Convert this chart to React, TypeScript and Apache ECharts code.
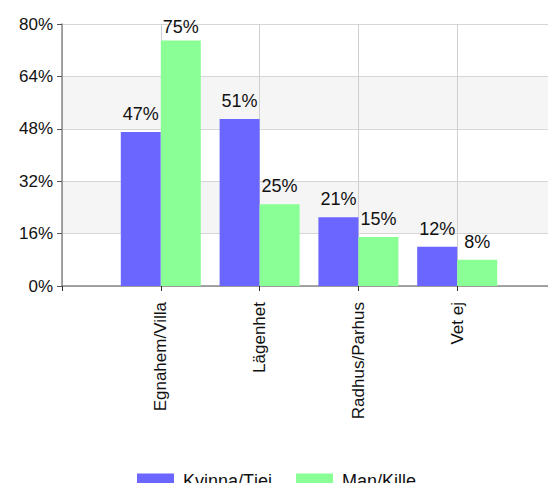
import React, { useEffect, useRef } from "react";
import * as echarts from "echarts";

const categories = ["", "Egnahem/Villa", "Lägenhet", "Radhus/Parhus", "Vet ej", ""];
const kvinna = ["-", 47, 51, 21, 12, "-"];
const man = ["-", 75, 25, 15, 8, "-"];
const seriesNames = ["Kvinna/Tjei", "Man/Kille"];

const FONT = "Liberation Sans, Arial, sans-serif";

export default function App() {
  const ref = useRef<HTMLDivElement>(null);
  useEffect(() => {
    if (!ref.current) return;
    const chart = echarts.init(ref.current, undefined, { renderer: "svg" });
    const label = {
      show: true,
      position: "top",
      distance: 9,
      formatter: "{c}%",
      color: "#111",
      fontSize: 18,
      fontFamily: FONT,
    };
    // the tallest bar's label sits closer to its bar so it stays inside the plot
    const maxVal = Math.max(...man.filter((v) => v !== "-").map(Number));
    const manData = man.map((v) =>
      v === maxVal ? { value: v, label: { distance: 4 } } : v
    );
    chart.setOption({
      animation: false,
      backgroundColor: "#fff",
      textStyle: { fontFamily: FONT },
      grid: { left: 62, top: 24, width: 500, height: 262, containLabel: false },
      legend: {
        top: 472,
        left: 137,
        padding: 0,
        itemWidth: 37,
        itemHeight: 15,
        itemGap: 24,
        icon: "rect",
        textStyle: { fontSize: 18, color: "#111", fontFamily: FONT, padding: [0, 0, 0, 4] },
        data: seriesNames,
      },
      xAxis: {
        type: "category",
        data: categories,
        boundaryGap: false,
        axisLine: { lineStyle: { color: "#888", width: 1.5 } },
        axisTick: { show: true, length: 5, lineStyle: { color: "#333" } },
        axisLabel: {
          rotate: 90,
          fontSize: 17,
          color: "#111",
          margin: 16,
          fontFamily: FONT,
          interval: 0,
        },
        splitLine: { show: true, lineStyle: { color: "#cfcfcf" } },
      },
      yAxis: {
        type: "value",
        min: 0,
        max: 80,
        interval: 16,
        axisLine: { show: true, lineStyle: { color: "#888", width: 1.5 } },
        axisTick: { show: true, length: 5, lineStyle: { color: "#555" } },
        axisLabel: { formatter: "{value}%", fontSize: 17, color: "#111", margin: 9, fontFamily: FONT },
        splitLine: { show: true, lineStyle: { color: "#d6d6d6" } },
        splitArea: { show: true, areaStyle: { color: ["#ffffff", "#f5f5f5"] } },
      },
      series: [
        {
          name: seriesNames[0],
          type: "bar",
          data: kvinna,
          barWidth: 40,
          barGap: "0%",
          itemStyle: { color: "#6b66ff" },
          label,
        },
        {
          name: seriesNames[1],
          type: "bar",
          data: manData,
          barWidth: 40,
          barGap: "0%",
          itemStyle: { color: "#8aff96" },
          label,
        },
      ],
    });
    return () => chart.dispose();
  }, []);
  return <div ref={ref} style={{ width: 556, height: 491, margin: -8 }} />;
}
